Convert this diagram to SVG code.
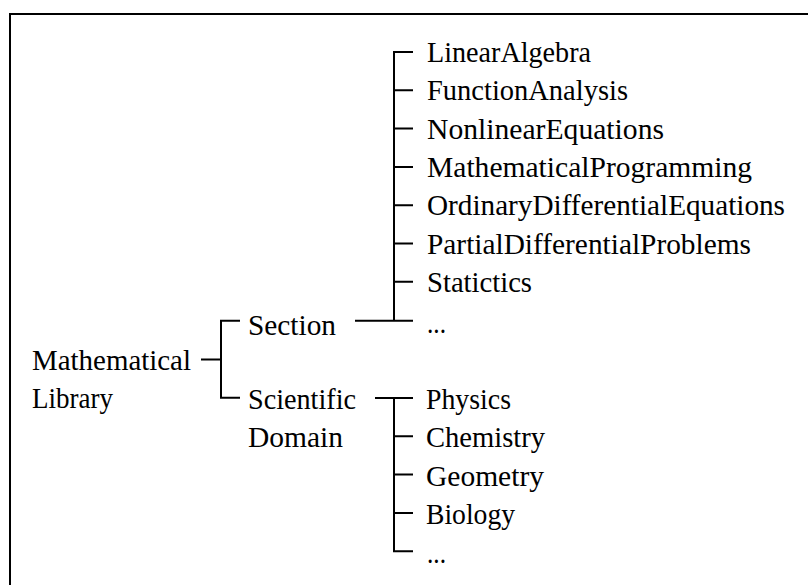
<svg xmlns="http://www.w3.org/2000/svg" width="808" height="585" viewBox="0 0 808 585">
<style>
  text { font-family: "Liberation Serif", "Times New Roman", serif; font-size: 30px; fill: #000; }
  .ln { stroke: #000; stroke-width: 2; fill: none; stroke-linecap: butt; }
</style>
<rect x="0" y="0" width="808" height="585" fill="#fff"/>
<rect x="10" y="14" width="820" height="600" fill="none" stroke="#000" stroke-width="2"/>
<g id="connectors" class="ln">
  <path d="M201 359.5 H221 M240 320.7 H221 V397.7 H240"/>
  <path d="M355 320.7 H413 M413 52 H394 V320.7 M394 90.3 H413 M394 128.6 H413 M394 166.9 H413 M394 205.2 H413 M394 243.5 H413 M394 281.8 H413"/>
  <path d="M375 398 H413 M394 398 V551.2 H413 M394 436.3 H413 M394 474.6 H413 M394 512.9 H413"/>
</g>
<g id="root"><text x="32" y="370" textLength="159" lengthAdjust="spacingAndGlyphs">Mathematical</text><text x="32" y="408" textLength="81" lengthAdjust="spacingAndGlyphs">Library</text></g>
<g id="section"><text x="248" y="335" textLength="88" lengthAdjust="spacingAndGlyphs">Section</text></g>
<g id="scientific"><text x="248" y="409" textLength="108" lengthAdjust="spacingAndGlyphs">Scientific</text><text x="248" y="447" textLength="95" lengthAdjust="spacingAndGlyphs">Domain</text></g>
<g id="s1"><text x="427" y="62" textLength="164" lengthAdjust="spacingAndGlyphs">LinearAlgebra</text></g>
<g id="s2"><text x="427" y="100.3" textLength="201" lengthAdjust="spacingAndGlyphs">FunctionAnalysis</text></g>
<g id="s3"><text x="427" y="138.6" textLength="237" lengthAdjust="spacingAndGlyphs">NonlinearEquations</text></g>
<g id="s4"><text x="427" y="176.9" textLength="325" lengthAdjust="spacingAndGlyphs">MathematicalProgramming</text></g>
<g id="s5"><text x="427" y="215.2" textLength="358" lengthAdjust="spacingAndGlyphs">OrdinaryDifferentialEquations</text></g>
<g id="s6"><text x="427" y="253.5" textLength="324" lengthAdjust="spacingAndGlyphs">PartialDifferentialProblems</text></g>
<g id="s7"><text x="427" y="291.8" textLength="105" lengthAdjust="spacingAndGlyphs">Statictics</text></g>
<g id="s8"><text x="427" y="333" textLength="19" lengthAdjust="spacingAndGlyphs">...</text></g>
<g id="d1"><text x="426" y="409" textLength="85" lengthAdjust="spacingAndGlyphs">Physics</text></g>
<g id="d2"><text x="426" y="447.3" textLength="119" lengthAdjust="spacingAndGlyphs">Chemistry</text></g>
<g id="d3"><text x="426" y="485.6" textLength="118" lengthAdjust="spacingAndGlyphs">Geometry</text></g>
<g id="d4"><text x="426" y="523.9" textLength="89" lengthAdjust="spacingAndGlyphs">Biology</text></g>
<g id="d5"><text x="427" y="563" textLength="19" lengthAdjust="spacingAndGlyphs">...</text></g>
</svg>
